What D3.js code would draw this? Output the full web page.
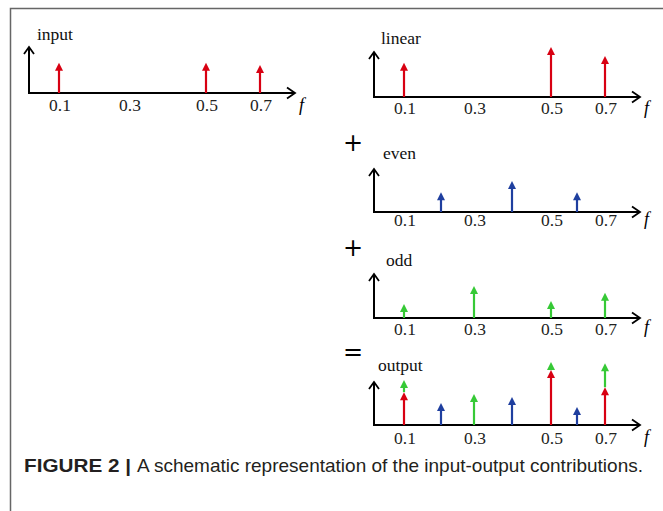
<!DOCTYPE html>
<html>
<head>
<meta charset="utf-8">
<script src="https://cdn.jsdelivr.net/npm/d3@7"></script>
<style>
  html, body { margin: 0; padding: 0; background: #fff; }
  svg { display: block; }
</style>
</head>
<body>
<div id="chart"></div>
<script>
// Data (amplitudes in arbitrary units, 1 = y-axis height)
const tickLabels = [0.1, 0.3, 0.5, 0.7];
const freqGrid = [0.1, 0.2, 0.3, 0.4, 0.5, 0.6, 0.7];

const inputFreq = [0.1, 0.5, 0.7];
const inputAmp = [0.67, 0.67, 0.62];

const linearFreq = [0.1, 0.5, 0.7];
const linearAmp = [0.76, 1.11, 0.91];

const evenFreq = [0.2, 0.4, 0.6];
const evenAmp = [0.44, 0.69, 0.44];

const oddFreq = [0.1, 0.3, 0.5, 0.7];
const oddAmp = [0.31, 0.71, 0.38, 0.56];

// output: linear part, even part, odd part (odd stacked on linear where they share f)
const outLinearAmp = [0.73, 1.22, 0.84];
const outEvenAmp = [0.49, 0.62, 0.40];
const outOddAmp = [0.27, 0.69, 0.18, 0.53];

const colors = { linear: "#d80012", even: "#1f3f9f", odd: "#36c936", axis: "#000" };

window.onload = () => {
  const W = 663, H = 511;
  const svg = d3.select("#chart").append("svg")
    .attr("width", W).attr("height", H);

  // frame
  svg.append("path")
    .attr("d", `M10.5,${H} V8.5 H${W}`)
    .attr("fill", "none")
    .attr("stroke", "#666")
    .attr("stroke-width", 1.5);

  // schematic (non-uniform) frequency positions, offset from axis origin
  const x = d3.scaleLinear()
    .domain(freqGrid)
    .range([30, 67, 100, 138, 177, 203, 231]);
  const y = d3.scaleLinear().domain([0, 1]).range([0, 45]);

  const serif = "'Liberation Serif', 'Times New Roman', serif";

  // panel layout
  const panels = [
    { key: "input", ox: 29, base: 93, top: 47, lx: 37, ly: 40, tl: 18, fy: 111 },
    { key: "linear", ox: 374, base: 97, top: 52, lx: 381, ly: 44, tl: 17, fy: 114 },
    { key: "even", ox: 374, base: 212, top: 169, lx: 383, ly: 159, tl: 14, fy: 225, sign: "+", sy: 143 },
    { key: "odd", ox: 374, base: 318, top: 274, lx: 386, ly: 266, tl: 17, fy: 333, sign: "+", sy: 248 },
    { key: "output", ox: 374, base: 425, top: 382, lx: 378, ly: 371, tl: 19, fy: 443, sign: "=", sy: 352 }
  ];

  function stem(g, p, f, a0, a1, color) {
    const cx = p.ox + x(f);
    const yb = p.base - y(a0);
    const yt = p.base - y(a1);
    const head = 8, hw = 4;
    g.append("line")
      .attr("x1", cx).attr("x2", cx)
      .attr("y1", yb).attr("y2", yt + head - 1)
      .attr("stroke", color)
      .attr("stroke-width", 2.2);
    g.append("path")
      .attr("d", `M${cx},${yt} L${cx + hw},${yt + head} L${cx - hw},${yt + head} Z`)
      .attr("fill", color);
  }

  panels.forEach(p => {
    const g = svg.append("g");
    const xEnd = p.ox + 266;

    // axes with open arrowheads
    g.append("path")
      .attr("d", `M${p.ox},${p.top} V${p.base} H${xEnd}`)
      .attr("fill", "none")
      .attr("stroke", colors.axis)
      .attr("stroke-width", 2);
    g.append("path")
      .attr("d", `M${p.ox - 5},${p.top + 7} L${p.ox},${p.top} L${p.ox + 5},${p.top + 7}`)
      .attr("fill", "none").attr("stroke", colors.axis).attr("stroke-width", 1.8);
    g.append("path")
      .attr("d", `M${xEnd - 8},${p.base - 5.5} L${xEnd},${p.base} L${xEnd - 8},${p.base + 5.5}`)
      .attr("fill", "none").attr("stroke", colors.axis).attr("stroke-width", 1.8);

    // tick labels
    g.selectAll("text.tick")
      .data(tickLabels)
      .enter().append("text")
      .attr("class", "tick")
      .attr("x", d => p.ox + x(d) + 1)
      .attr("y", p.base + p.tl)
      .attr("text-anchor", "middle")
      .attr("font-family", serif)
      .attr("font-size", 17.5)
      .attr("fill", "#222")
      .text(d => d3.format(".1f")(d));

    g.append("text")
      .attr("x", xEnd + 4)
      .attr("y", p.fy)
      .attr("font-family", serif)
      .attr("font-style", "italic")
      .attr("font-size", 18)
      .text("f");

    g.append("text")
      .attr("x", p.lx)
      .attr("y", p.ly)
      .attr("font-family", serif)
      .attr("font-size", 17.5)
      .attr("fill", "#111")
      .text(p.key);

    if (p.sign) {
      g.append("text")
        .attr("x", 353)
        .attr("y", p.sy)
        .attr("text-anchor", "middle")
        .attr("dominant-baseline", "central")
        .attr("font-family", "'DejaVu Sans', sans-serif")
        .attr("font-size", 24)
        .text(p.sign);
    }

    p.g = g;
  });

  const P = {};
  panels.forEach(p => { P[p.key] = p; });

  inputFreq.forEach((f, i) => stem(P.input.g, P.input, f, 0, inputAmp[i], colors.linear));
  linearFreq.forEach((f, i) => stem(P.linear.g, P.linear, f, 0, linearAmp[i], colors.linear));
  evenFreq.forEach((f, i) => stem(P.even.g, P.even, f, 0, evenAmp[i], colors.even));
  oddFreq.forEach((f, i) => stem(P.odd.g, P.odd, f, 0, oddAmp[i], colors.odd));

  // output: odd stacked above linear where the frequencies coincide
  const out = P.output;
  oddFreq.forEach((f, i) => {
    const li = linearFreq.indexOf(f);
    const base = li >= 0 ? outLinearAmp[li] : 0;
    stem(out.g, out, f, base, base + outOddAmp[i], colors.odd);
  });
  linearFreq.forEach((f, i) => stem(out.g, out, f, 0, outLinearAmp[i], colors.linear));
  evenFreq.forEach((f, i) => stem(out.g, out, f, 0, outEvenAmp[i], colors.even));

  // caption
  const sans = "'Liberation Sans Narrow', 'Liberation Sans', Arial, sans-serif";
  svg.append("text")
    .attr("x", 24).attr("y", 472)
    .attr("font-family", sans)
    .attr("font-weight", "bold")
    .attr("font-size", 19)
    .attr("fill", "#231f20")
    .attr("textLength", 107)
    .attr("lengthAdjust", "spacingAndGlyphs")
    .text("FIGURE 2 |");
  svg.append("text")
    .attr("x", 137).attr("y", 472)
    .attr("font-family", sans)
    .attr("font-size", 19)
    .attr("fill", "#231f20")
    .attr("textLength", 506)
    .attr("lengthAdjust", "spacingAndGlyphs")
    .text("A schematic representation of the input-output contributions.");
};
</script>
</body>
</html>
